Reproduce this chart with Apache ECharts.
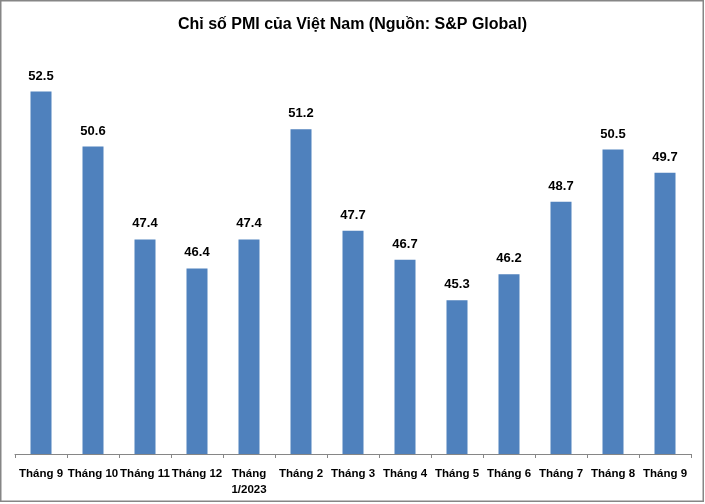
<!DOCTYPE html>
<html>
<head>
<meta charset="utf-8">
<script src="https://cdn.jsdelivr.net/npm/echarts@6/dist/echarts.min.js"></script>
<style>
html,body{margin:0;padding:0;background:#fff;}
#c{width:705px;height:504px;}
</style>
</head>
<body>
<div id="c"></div>
<script>
const categories = ['Tháng 9','Tháng 10','Tháng 11','Tháng 12','Tháng\n1/2023','Tháng 2','Tháng 3','Tháng 4','Tháng 5','Tháng 6','Tháng 7','Tháng 8','Tháng 9'];
const pmiValues = [52.5, 50.6, 47.4, 46.4, 47.4, 51.2, 47.7, 46.7, 45.3, 46.2, 48.7, 50.5, 49.7];
const titleText = 'Chỉ số PMI của Việt Nam (Nguồn: S&P Global)';

const chart = echarts.init(document.getElementById('c'), null, {renderer:'canvas'});
chart.setOption({
  animation:false,
  backgroundColor:'#fff',
  title:{
    text:titleText,
    left:'center',
    top:12,
    textStyle:{fontFamily:'Liberation Sans',fontWeight:'bold',fontSize:16,color:'#000'}
  },
  graphic:[{
    type:'rect',
    shape:{x:0.75,y:0.75,width:702.5,height:500.5},
    style:{fill:'none',stroke:'#868686',lineWidth:1.5},
    silent:true
  }],
  grid:{left:15,right:14,top:48,bottom:50},
  xAxis:{
    type:'category',
    data:categories,
    boundaryGap:true,
    axisLine:{show:true,lineStyle:{color:'#868686',width:1}},
    axisTick:{show:true,length:4,alignWithLabel:false,lineStyle:{color:'#868686'}},
    axisLabel:{interval:0,margin:12,fontFamily:'Liberation Sans',fontWeight:'bold',fontSize:11.5,color:'#000',lineHeight:16}
  },
  yAxis:{
    type:'value',
    min:40,
    max:54,
    show:false,
    splitLine:{show:false}
  },
  series:[{
    type:'bar',
    data:pmiValues,
    barWidth:21,
    itemStyle:{color:'#4F81BD'},
    label:{
      show:true,
      position:'top',
      distance:9,
      fontFamily:'Liberation Sans',
      fontWeight:'bold',
      fontSize:13,
      color:'#000',
      formatter:(p)=>p.value.toFixed(1)
    }
  }]
});
</script>
</body>
</html>
